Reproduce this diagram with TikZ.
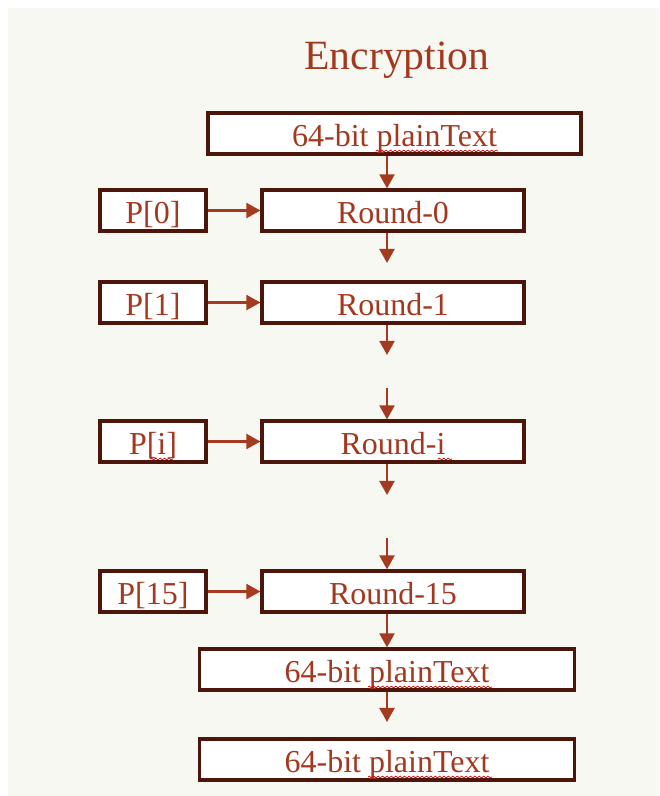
\documentclass[tikz,border=0pt]{standalone}
\usepackage{fontspec}
\setmainfont{Liberation Serif}
\usetikzlibrary{arrows.meta,decorations.pathmorphing}
\definecolor{bgpaper}{HTML}{F8F8F3}
\definecolor{boxline}{HTML}{4E150A}
\definecolor{txtred}{HTML}{A4381F}
\definecolor{arrred}{HTML}{A63A1E}
\tikzset{
  blk/.style={draw=boxline,line width=1.8pt,fill=white,text=txtred,inner sep=0pt,
    minimum height=0.82cm,text height=0.5cm,text depth=0cm,
    font=\fontsize{18.2}{20}\selectfont},
  keybox/.style={blk,minimum width=2.12cm},
  roundbox/.style={blk,minimum width=5.24cm},
  ptbox/.style={blk,minimum width=7.5cm},
  arr/.style={draw=arrred,line width=1.4pt,-{Triangle[width=8.5pt,length=8pt]}},
  squig/.style={draw=red!85!black,line width=0.4pt,decorate,
    decoration={snake,amplitude=0.5pt,segment length=2.5pt}}
}
\begin{document}
\begin{tikzpicture}
\useasboundingbox (0,0) rectangle (13.18,-15.92);
\fill[white] (0,0) rectangle (13.18,-15.92);
\fill[bgpaper] (0.16,-0.16) rectangle (13.18,-15.92);
\node[text=txtred,font=\fontsize{23.7}{26}\selectfont] (title) at (7.94,-1.2) {Encryption};
% input block
\node[ptbox,minimum width=7.46cm] (pt0) at (7.89,-2.67) {64-bit plainText};
% rounds with their subkeys
\node[roundbox] (r0) at (7.86,-4.21) {Round-0};
\node[keybox] (p0) at (3.06,-4.21) {P[0]};
\node[roundbox] (r1) at (7.86,-6.05) {Round-1};
\node[keybox] (p1) at (3.06,-6.05) {P[1]};
\node[roundbox] (ri) at (7.86,-8.83) {Round-i};
\node[keybox] (pi) at (3.06,-8.83) {P[i]};
\node[roundbox] (r15) at (7.86,-11.83) {Round-15};
\node[keybox] (p15) at (3.06,-11.83) {P[15]};
% output blocks
\node[ptbox] (pt1) at (7.74,-13.39) {64-bit plainText};
\node[ptbox] (pt2) at (7.74,-15.19) {64-bit plainText};
% loose arrow ends
\coordinate (g0) at (7.74,-5.26);
\coordinate (g1) at (7.74,-7.10);
\coordinate (g2) at (7.74,-7.76);
\coordinate (g3) at (7.74,-9.90);
\coordinate (g4) at (7.74,-10.76);
\coordinate (g5) at (7.74,-14.44);
\draw[arr] (pt0.south -| pt1) -- (r0.north -| pt1);
\draw[arr] (r0.south -| pt1) -- (g0);
\draw[arr] (r1.south -| pt1) -- (g1);
\draw[arr] (g2) -- (ri.north -| pt1);
\draw[arr] (ri.south -| pt1) -- (g3);
\draw[arr] (g4) -- (r15.north -| pt1);
\draw[arr] (r15.south -| pt1) -- (pt1.north);
\draw[arr] (pt1.south) -- (g5);
\foreach \k in {0,1,i,15}{
  \draw[arr] (p\k.east) -- (r\k.west);
}
% spell-check marks
\draw[squig] (7.52,-3.02) -- (9.96,-3.02);
\draw[squig] (7.36,-13.74) -- (9.84,-13.74);
\draw[squig] (7.36,-15.54) -- (9.84,-15.54);
\draw[squig] (3.00,-9.18) -- (3.46,-9.18);
\draw[squig] (8.76,-9.18) -- (9.04,-9.18);
\end{tikzpicture}
\end{document}
